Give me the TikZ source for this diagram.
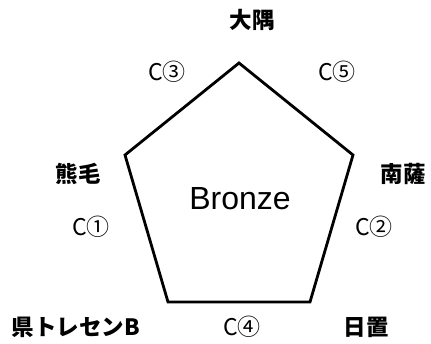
\documentclass[tikz,border=0pt]{standalone}
\usepackage{fontspec}
\setmainfont{Noto Sans CJK JP}
\newfontfamily\latinfont{Liberation Sans}

\begin{document}
\begin{tikzpicture}[x=1pt,y=-1pt,
	area/.style={font=\fontsize{22.5}{22.5}\selectfont\bfseries},
	match/.style={font=\fontsize{23}{23}\selectfont}]
	\useasboundingbox (0,0) rectangle (431,343);
	\coordinate (osumi) at (239,63);
	\coordinate (nansatsu) at (353,155);
	\coordinate (hioki) at (310,302);
	\coordinate (kentre) at (168,302);
	\coordinate (kumage) at (125,155);
		\draw [line width=2.8pt, line join=miter] 
		(osumi) -- (nansatsu) -- (hioki) -- (kentre) -- (kumage) -- cycle;
	\node [font=\latinfont\fontsize{32}{32}\selectfont] (rank) at (240,199) {Bronze};
	\node [area] (osuminame) at (252,20) {大隅};
	\node [area] (kumagename) at (78,174) {熊毛};
	\node [area] (nansatsuname) at (403,174) {南薩};
	\node [area] (kentrename) at (76,327) {県トレセンB};
	\node [area] (hiokiname) at (366,327) {日置};
	\node [match] (c1) at (91,227) {C①};
	\node [match] (c2) at (374,227) {C②};
	\node [match] (c3) at (167,72) {C③};
	\node [match] (c4) at (242,327) {C④};
	\node [match] (c5) at (337,72) {C⑤};
\end{tikzpicture}
\end{document}
